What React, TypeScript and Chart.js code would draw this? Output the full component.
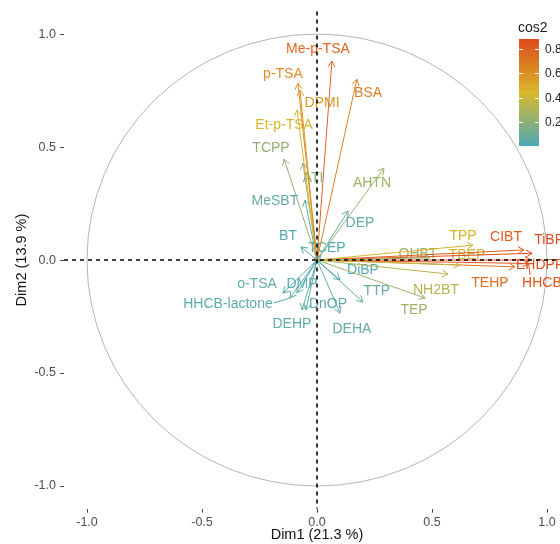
import React, { useEffect, useRef } from "react";
import { Chart, registerables } from "chart.js";

Chart.register(...registerables);

// ---- data ----
const variables = [
  "Me-p-TSA", "BSA", "p-TSA", "DPMI", "Et-p-TSA", "TCPP", "ATI", "MeSBT", "AHTN", "DEP",
  "BT", "TCEP", "o-TSA", "DMP", "HHCB-lactone", "DEHP", "DnOP", "DEHA", "DiBP", "TTP",
  "NH2BT", "TEP", "OHBT", "TBEP", "TPP", "CIBT", "TiBP", "EHDPP", "TEHP", "HHCB",
];
const dim1 = [
  0.065, 0.173, -0.083, -0.074, -0.087, -0.143, -0.061, -0.052, 0.291, 0.135,
  -0.07, 0.015, -0.148, -0.087, -0.117, -0.065, -0.048, 0.1, 0.1, 0.2,
  0.57, 0.47, 0.49, 0.62, 0.678, 0.9, 0.935, 0.93, 0.86, 0.92,
];
const dim2 = [
  0.881, 0.8, 0.783, 0.752, 0.664, 0.447, 0.429, 0.265, 0.407, 0.217,
  0.058, 0.02, -0.146, -0.146, -0.168, -0.221, -0.221, -0.235, -0.088, -0.186,
  -0.062, -0.168, 0.01, -0.022, 0.066, 0.045, 0.03, 0.0, -0.03, -0.015,
];
// repelled label anchors (data units)
const labelX = [
  0.004, 0.222, -0.148, 0.022, -0.143, -0.2, -0.017, -0.183, 0.239, 0.187,
  -0.126, 0.043, -0.261, -0.065, -0.387, -0.109, 0.048, 0.152, 0.2, 0.26,
  0.517, 0.422, 0.439, 0.652, 0.635, 0.822, 1.009, 0.97, 0.752, 0.978,
];
const labelY = [
  0.938, 0.743, 0.827, 0.699, 0.602, 0.5, 0.367, 0.265, 0.345, 0.168,
  0.111, 0.058, -0.102, -0.102, -0.19, -0.279, -0.19, -0.301, -0.04, -0.133,
  -0.128, -0.217, 0.031, 0.027, 0.111, 0.106, 0.093, -0.018, -0.097, -0.097,
];
const linkedLabels = ["HHCB-lactone", "HHCB"];
const axisTicks = [-1, -0.5, 0, 0.5, 1];
const legendTicks = [0.2, 0.4, 0.6, 0.8];
const cos2Min = 0;
const cos2Max = 0.883;

const FONT = '"Liberation Sans", Arial, Helvetica, sans-serif';
const gradientStops: [number, string][] = [
  [0, "#4FA9B8"],
  [0.5, "#D9B82A"],
  [1, "#E04A1C"],
];

function hexToRgb(h: string) {
  const n = parseInt(h.slice(1), 16);
  return [(n >> 16) & 255, (n >> 8) & 255, n & 255];
}
function colorFor(c: number) {
  let t = (c - cos2Min) / (cos2Max - cos2Min);
  t = Math.max(0, Math.min(1, t));
  for (let i = 0; i < gradientStops.length - 1; i++) {
    const [t0, c0] = gradientStops[i];
    const [t1, c1] = gradientStops[i + 1];
    if (t <= t1) {
      const f = (t - t0) / (t1 - t0);
      const a = hexToRgb(c0);
      const b = hexToRgb(c1);
      const r = a.map((v, k) => Math.round(v + (b[k] - v) * f));
      return `rgb(${r[0]},${r[1]},${r[2]})`;
    }
  }
  return gradientStops[gradientStops.length - 1][1];
}

const cos2 = dim1.map((x, i) => x * x + dim2[i] * dim2[i]);
const colors = cos2.map(colorFor);

const pcaPlugin = {
  id: "pcaDecor",
  beforeDatasetsDraw(chart: any) {
    const { ctx, scales } = chart;
    const xs = scales.x;
    const ys = scales.y;
    ctx.save();
    // correlation circle
    const cx = xs.getPixelForValue(0);
    const cy = ys.getPixelForValue(0);
    const rx = xs.getPixelForValue(1) - cx;
    const ry = cy - ys.getPixelForValue(1);
    ctx.strokeStyle = "#b4b4b4";
    ctx.lineWidth = 1;
    ctx.beginPath();
    ctx.ellipse(cx, cy, rx, ry, 0, 0, Math.PI * 2);
    ctx.stroke();
    // labels (under arrows)
    ctx.font = `14px ${FONT}`;
    ctx.textAlign = "center";
    ctx.textBaseline = "middle";
    variables.forEach((name, i) => {
      const lx = xs.getPixelForValue(labelX[i]);
      const ly = ys.getPixelForValue(labelY[i]);
      ctx.fillStyle = colors[i];
      ctx.fillText(name, lx, ly + 1);
      if (linkedLabels.includes(name)) {
        const w = ctx.measureText(name).width;
        const tx = xs.getPixelForValue(dim1[i]);
        const ty = ys.getPixelForValue(dim2[i]);
        const sx = tx > lx ? lx + w / 2 + 1 : lx - w / 2 + 8;
        const sy = tx > lx ? ly : ly - 7;
        ctx.strokeStyle = colors[i];
        ctx.lineWidth = 1;
        ctx.beginPath();
        ctx.moveTo(sx, sy);
        ctx.lineTo(tx, ty);
        ctx.stroke();
      }
    });
    ctx.restore();
  },
  afterDatasetsDraw(chart: any) {
    const { ctx, scales, chartArea } = chart;
    const xs = scales.x;
    const ys = scales.y;
    ctx.save();
    // arrow heads
    const ox = xs.getPixelForValue(0);
    const oy = ys.getPixelForValue(0);
    const len = 7;
    const ang = Math.PI / 6;
    dim1.forEach((x, i) => {
      const tx = xs.getPixelForValue(x);
      const ty = ys.getPixelForValue(dim2[i]);
      const a = Math.atan2(ty - oy, tx - ox);
      ctx.strokeStyle = colors[i];
      ctx.lineWidth = 1;
      ctx.beginPath();
      ctx.moveTo(tx - len * Math.cos(a - ang), ty - len * Math.sin(a - ang));
      ctx.lineTo(tx, ty);
      ctx.lineTo(tx - len * Math.cos(a + ang), ty - len * Math.sin(a + ang));
      ctx.stroke();
    });
    // dashed axes lines
    ctx.strokeStyle = "#000";
    ctx.lineWidth = 1.6;
    ctx.setLineDash([4, 4]);
    ctx.beginPath();
    ctx.moveTo(chartArea.left, oy);
    ctx.lineTo(chartArea.right, oy);
    ctx.moveTo(ox, chartArea.top);
    ctx.lineTo(ox, chartArea.bottom);
    ctx.stroke();
    ctx.setLineDash([]);
    ctx.restore();
  },
  afterDraw(chart: any) {
    const { ctx } = chart;
    ctx.save();
    // colour bar legend
    const left = 519;
    const right = 539;
    const bottom = 146;
    const top = 39;
    const vy = (v: number) => bottom - ((v - cos2Min) / (cos2Max - cos2Min)) * (bottom - top);
    const g = ctx.createLinearGradient(0, bottom, 0, top);
    gradientStops.forEach(([t, c]) => g.addColorStop(t, c));
    ctx.fillStyle = g;
    ctx.fillRect(left, top, right - left, bottom - top);
    ctx.strokeStyle = "#ffffff";
    ctx.lineWidth = 1;
    ctx.font = `12px ${FONT}`;
    ctx.textAlign = "left";
    ctx.textBaseline = "middle";
    legendTicks.forEach((v) => {
      const y = Math.round(vy(v)) + 0.5;
      ctx.beginPath();
      ctx.moveTo(left, y);
      ctx.lineTo(left + 4, y);
      ctx.moveTo(right - 4, y);
      ctx.lineTo(right, y);
      ctx.stroke();
      ctx.fillStyle = "#222";
      ctx.fillText(v.toFixed(1), right + 6, y);
    });
    ctx.fillStyle = "#1a1a1a";
    ctx.font = `14px ${FONT}`;
    ctx.fillText("cos2", left - 1, 28);
    ctx.restore();
  },
};

export default function App() {
  const ref = useRef<HTMLCanvasElement | null>(null);
  useEffect(() => {
    if (!ref.current) return;
    const datasets = variables.map((name, i) => ({
      label: name,
      data: [
        { x: 0, y: 0 },
        { x: dim1[i], y: dim2[i] },
      ],
      showLine: true,
      borderColor: colors[i],
      backgroundColor: colors[i],
      borderWidth: 1,
      pointRadius: 0,
      pointHoverRadius: 0,
    }));
    const tickFont = { family: FONT, size: 12.5 };
    const titleFont = { family: FONT, size: 14.5 };
    const setTicks = (s: any) => {
      s.ticks = axisTicks.map((v) => ({ value: v }));
    };
    const chart = new Chart(ref.current, {
      type: "scatter",
      data: { datasets },
      options: {
        animation: false,
        responsive: false,
        devicePixelRatio: 1,
        events: [],
        layout: { padding: { top: 11.4, right: 30, left: 0, bottom: 0 } },
        plugins: { legend: { display: false }, tooltip: { enabled: false } },
        scales: {
          x: {
            type: "linear",
            min: -1.1,
            max: 1.1,
            afterBuildTicks: setTicks,
            afterFit: (s: any) => {
              s.height = 35.4;
            },
            ticks: {
              callback: (v: any) => Number(v).toFixed(1),
              font: tickFont,
              color: "#4d4d4d",
              padding: 2,
              maxRotation: 0,
            },
            grid: {
              display: true,
              drawOnChartArea: false,
              drawTicks: true,
              tickLength: 4,
              color: "#444",
            },
            border: { display: false },
            title: {
              display: true,
              text: "Dim1 (21.3 %)",
              font: titleFont,
              color: "#111",
              padding: { top: 0, bottom: 0 },
            },
          },
          y: {
            type: "linear",
            min: -1.1,
            max: 1.1,
            afterBuildTicks: setTicks,
            afterFit: (s: any) => {
              s.width = 64;
            },
            ticks: {
              callback: (v: any) => Number(v).toFixed(1),
              font: tickFont,
              color: "#4d4d4d",
              padding: 4,
            },
            grid: {
              display: true,
              drawOnChartArea: false,
              drawTicks: true,
              tickLength: 4,
              color: "#444",
            },
            border: { display: false },
            title: {
              display: true,
              text: "Dim2 (13.9 %)",
              font: titleFont,
              color: "#111",
              padding: { top: 13, bottom: 0 },
            },
          },
        },
      },
      plugins: [pcaPlugin],
    });
    return () => chart.destroy();
  }, []);
  return (
    <div
      style={{
        position: "fixed",
        left: 0,
        top: 0,
        width: 560,
        height: 544,
        overflow: "hidden",
        background: "#fff",
      }}
    >
      <canvas ref={ref} width={600} height={544} style={{ display: "block" }} />
    </div>
  );
}
